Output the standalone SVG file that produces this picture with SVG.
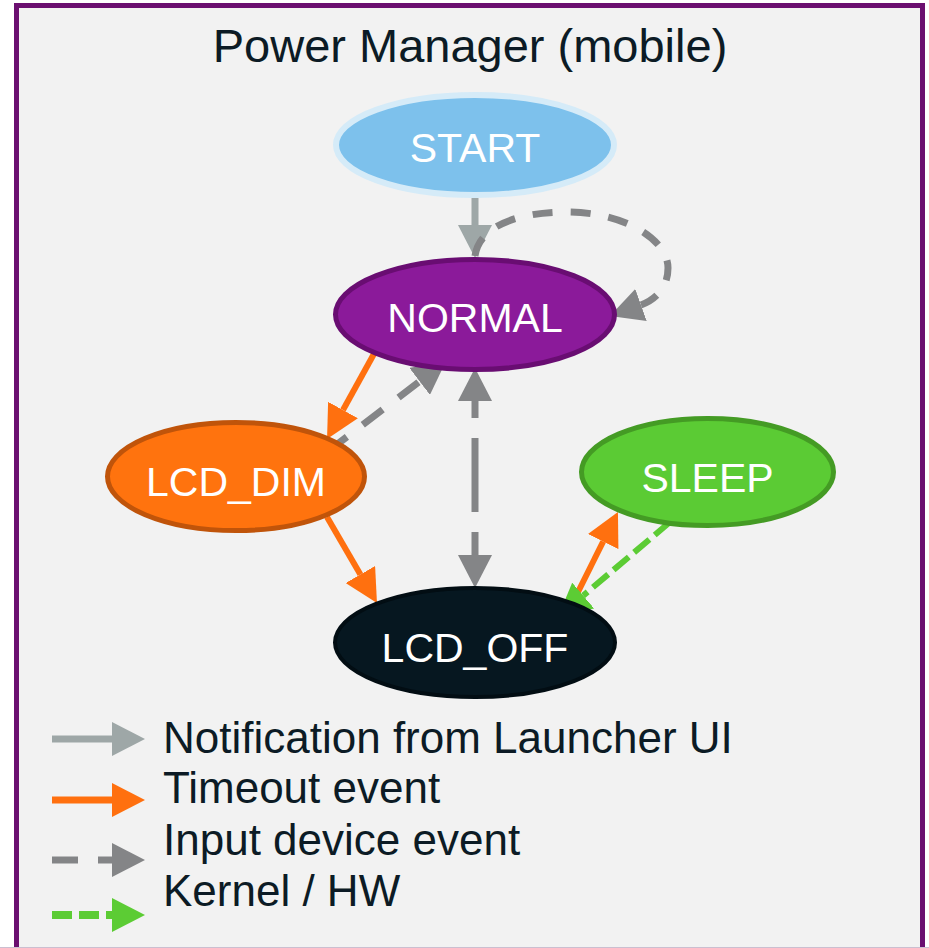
<svg xmlns="http://www.w3.org/2000/svg" width="929" height="948" viewBox="0 0 929 948">
  <style>
    .title { font-family: "Liberation Sans", Arial, sans-serif; font-size: 47px; fill: #0c1b25; text-anchor: middle; }
    .label { font-family: "Liberation Sans", Arial, sans-serif; font-size: 41px; fill: #ffffff; text-anchor: middle; }
    .legend { font-family: "Liberation Sans", Arial, sans-serif; font-size: 44px; fill: #0c1b25; }
    .notify { stroke: #9ea7a7; stroke-width: 7; fill: none; }
    .timeout { stroke: #ff700f; stroke-width: 6; fill: none; }
    .input { stroke: #848587; stroke-width: 7; fill: none; stroke-dasharray: 25 20; }
    .kernel { stroke: #5ccc34; stroke-width: 6; fill: none; stroke-dasharray: 20 7; }
  </style>
  <defs>
    <marker id="head-notify" markerUnits="userSpaceOnUse" markerWidth="34" markerHeight="34" refX="0" refY="17" orient="auto-start-reverse">
      <path d="M0,0 L33,17 L0,34 Z" fill="#9ea7a7"/>
    </marker>
    <marker id="head-timeout" markerUnits="userSpaceOnUse" markerWidth="34" markerHeight="34" refX="0" refY="17" orient="auto-start-reverse">
      <path d="M0,0 L33,17 L0,34 Z" fill="#ff700f"/>
    </marker>
    <marker id="head-input" markerUnits="userSpaceOnUse" markerWidth="34" markerHeight="34" refX="0" refY="17" orient="auto-start-reverse">
      <path d="M0,0 L33,17 L0,34 Z" fill="#848587"/>
    </marker>
    <marker id="head-kernel" markerUnits="userSpaceOnUse" markerWidth="34" markerHeight="34" refX="0" refY="17" orient="auto-start-reverse">
      <path d="M0,0 L33,17 L0,34 Z" fill="#5ccc34"/>
    </marker>
  </defs>

  <!-- frame -->
  <rect x="0" y="0" width="929" height="948" fill="#ffffff"/>
  <rect x="16.5" y="5.5" width="906" height="970" fill="#f2f2f2" stroke="#6b0f70" stroke-width="5"/>
  <line x1="0" y1="947.5" x2="929" y2="947.5" stroke="#cbbfd0" stroke-width="1"/>

  <text class="title" x="470" y="62">Power Manager (mobile)</text>

  <!-- connectors -->
  <g id="connectors">
    <path class="notify" d="M475,198 L475,225" marker-end="url(#head-notify)"/>
    <path class="input" style="stroke-dasharray: 20 18" d="M475,256 C479,226 518,212 567,212 C625,212 668,240 668,268 C668,288 655,300 641,305" marker-end="url(#head-input)"/>
    <path class="timeout" d="M375,352 L343,410" marker-end="url(#head-timeout)"/>
    <path class="input" d="M327,452 L419.6,381.4" marker-end="url(#head-input)"/>
    <path class="input" style="stroke-dasharray: 17 20 74 20 23" d="M475,401 L475,555" marker-start="url(#head-input)" marker-end="url(#head-input)"/>
    <path class="timeout" d="M327,517 L360.4,574.5" marker-end="url(#head-timeout)"/>
    <path class="timeout" d="M578,592 L603.2,541.5" marker-end="url(#head-timeout)"/>
    <path class="kernel" d="M670,522 L583.2,595.6" marker-end="url(#head-kernel)"/>
  </g>

  <!-- states -->
  <g id="start">
    <ellipse cx="475" cy="145" rx="139" ry="50" fill="#7dc1ec" stroke="#d5ebf8" stroke-width="6"/>
    <text class="label" x="475" y="162">START</text>
  </g>
  <g id="normal">
    <ellipse cx="475" cy="314.5" rx="139.5" ry="55" fill="#8b1a9a" stroke="#690d72" stroke-width="5"/>
    <text class="label" x="475" y="332">NORMAL</text>
  </g>
  <g id="lcd_dim">
    <ellipse cx="236" cy="476.5" rx="128.5" ry="54" fill="#ff730e" stroke="#c0540a" stroke-width="5"/>
    <text class="label" x="236" y="496">LCD_DIM</text>
  </g>
  <g id="sleep">
    <ellipse cx="707.5" cy="472" rx="126" ry="53.5" fill="#5bcb34" stroke="#449b24" stroke-width="5"/>
    <text class="label" x="707.5" y="492">SLEEP</text>
  </g>
  <g id="lcd_off">
    <ellipse cx="475" cy="642.5" rx="140" ry="54.5" fill="#061720" stroke="#020d13" stroke-width="4"/>
    <text class="label" x="475" y="662">LCD_OFF</text>
  </g>

  <!-- legend -->
  <g id="legend">
    <path class="notify" d="M52,739 L112,739" marker-end="url(#head-notify)"/>
    <text class="legend" x="163" y="753">Notification from Launcher UI</text>
    <path class="timeout" style="stroke-width:7" d="M52,800 L112,800" marker-end="url(#head-timeout)"/>
    <text class="legend" x="163" y="803">Timeout event</text>
    <path class="input" style="stroke-dasharray: 26 20" d="M52,860 L112,860" marker-end="url(#head-input)"/>
    <text class="legend" x="163" y="855">Input device event</text>
    <path class="kernel" style="stroke-width:8" d="M52,915 L112,915" marker-end="url(#head-kernel)"/>
    <text class="legend" x="163" y="906">Kernel / HW</text>
  </g>
</svg>
